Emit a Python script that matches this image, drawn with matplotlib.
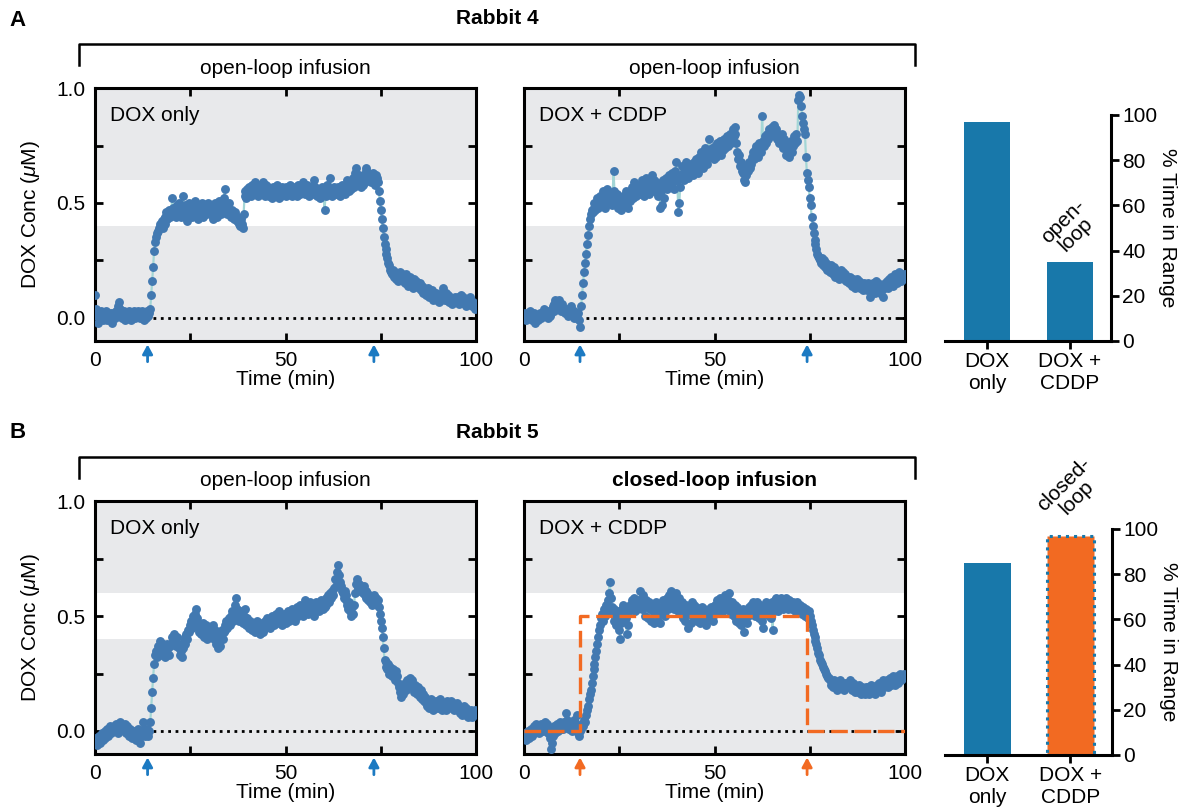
import numpy as np
import matplotlib.pyplot as plt
from matplotlib.lines import Line2D
from matplotlib.ticker import MultipleLocator, FormatStrFormatter

plt.rcParams['font.family'] = ['Liberation Sans', 'DejaVu Sans']
plt.rcParams['font.size'] = 15
plt.rcParams['mathtext.fontset'] = 'custom'
plt.rcParams['mathtext.rm'] = 'Liberation Sans'
plt.rcParams['mathtext.it'] = 'Liberation Sans:italic'

# sampling every 15 s over the 100 min run
t = np.arange(401) * 0.25

# DOX concentration, hundredths of uM
r4_dox = np.array([
    10, 4, 1, -2, 2, 0, 3, 1, -1, 2, 0, 1, 3, -1, 2, 1, 0, 2, -2, 1,
    2, 0, 3, 1, 5, 7, 4, 2, 0, 1, 3, -1, 2, 1, 0, 2, 3, 1, -1, 2,
    1, 3, 0, 2, 1, 3, 2, 0, 1, 3, 2, -1, 1, 2, 0, 3, 1, 2, 4, 10,
    16, 22, 29, 33, 35, 37, 38, 39, 41, 40, 42, 39, 43, 41, 44, 46, 43, 45, 47, 44,
    46, 52, 48, 45, 47, 44, 49, 46, 50, 47, 44, 48, 53, 46, 49, 45, 47, 42, 48, 50,
    46, 48, 44, 49, 47, 51, 45, 48, 43, 47, 49, 46, 50, 44, 48, 46, 49, 45, 47, 50,
    48, 45, 49, 47, 43, 46, 50, 48, 44, 49, 51, 47, 45, 48, 46, 52, 56, 49, 47, 45,
    48, 50, 46, 44, 47, 45, 43, 46, 44, 42, 44, 41, 40, 43, 41, 39, 45, 53, 55, 52,
    56, 54, 57, 55, 53, 58, 56, 54, 59, 57, 55, 53, 56, 58, 54, 57, 59, 55, 53, 56,
    58, 55, 57, 53, 56, 54, 52, 57, 55, 53, 56, 58, 54, 52, 55, 53, 57, 55, 54, 56,
    53, 57, 55, 54, 56, 58, 55, 53, 57, 54, 56, 55, 53, 58, 56, 54, 57, 55, 59, 56,
    54, 57, 55, 58, 56, 53, 55, 57, 54, 56, 60, 57, 55, 53, 56, 54, 52, 55, 57, 54,
    56, 47, 53, 57, 58, 54, 56, 61, 55, 53, 55, 57, 54, 56, 54, 57, 55, 53, 56, 58,
    55, 57, 54, 58, 56, 60, 57, 55, 59, 56, 58, 61, 57, 63, 65, 60, 58, 62, 59, 57,
    60, 58, 62, 59, 65, 64, 61, 63, 60, 62, 59, 61, 63, 60, 58, 62, 61, 59, 55, 51,
    47, 43, 39, 35, 32, 30, 28, 26, 24, 23, 21, 20, 19, 21, 18, 20, 17, 19, 16, 18,
    20, 17, 19, 16, 18, 15, 17, 19, 16, 14, 17, 18, 15, 16, 13, 17, 15, 16, 14, 15,
    13, 15, 12, 14, 11, 13, 12, 10, 12, 11, 13, 9, 11, 10, 12, 8, 10, 9, 11, 8,
    10, 7, 9, 8, 11, 13, 10, 8, 9, 11, 8, 10, 7, 9, 8, 6, 8, 7, 9, 8,
    7, 9, 6, 8, 10, 7, 9, 8, 6, 7, 5, 8, 6, 7, 9, 6, 5, 7, 6, 4,
    5]) / 100

r4_combo = np.array([
    1, 2, -1, 0, 2, 1, 3, 0, -1, 1, 2, 0, -2, 1, 0, -1, 1, 2, 0, 1,
    2, 4, 3, 1, 2, 0, 3, 1, 2, 4, 5, 3, 6, 8, 7, 5, 6, 8, 4, 3,
    6, 4, 3, 2, 4, 3, 1, 2, 3, 5, 2, 1, 3, 0, 2, 1, 0, 2, -1, -4,
    5, 10, 15, 20, 24, 28, 32, 36, 40, 43, 45, 47, 46, 48, 50, 47, 49, 52, 48, 50,
    53, 49, 51, 55, 50, 48, 52, 56, 53, 50, 54, 51, 49, 53, 64, 55, 52, 50, 54, 48,
    52, 50, 47, 51, 53, 49, 52, 55, 50, 48, 53, 51, 54, 57, 52, 55, 59, 56, 53, 57,
    55, 58, 54, 57, 60, 56, 53, 58, 61, 55, 57, 54, 59, 56, 62, 58, 55, 60, 57, 59,
    56, 53, 58, 48, 55, 49, 60, 52, 58, 61, 56, 59, 62, 57, 60, 63, 59, 56, 61, 64,
    68, 60, 46, 50, 57, 62, 66, 63, 60, 65, 68, 64, 61, 66, 63, 67, 65, 62, 68, 66,
    64, 69, 67, 63, 70, 66, 72, 68, 65, 71, 74, 69, 67, 73, 78, 72, 70, 74, 71, 69,
    73, 75, 70, 76, 72, 74, 77, 71, 75, 73, 78, 74, 76, 79, 75, 77, 80, 76, 78, 82,
    79, 83, 80, 76, 72, 69, 71, 66, 68, 64, 63, 60, 59, 62, 66, 64, 68, 65, 67, 70,
    72, 69, 73, 71, 75, 73, 70, 76, 74, 72, 88, 77, 75, 79, 76, 80, 78, 82, 79, 81,
    83, 80, 84, 81, 79, 82, 78, 80, 76, 79, 77, 80, 74, 78, 75, 71, 76, 73, 70, 74,
    77, 72, 75, 79, 76, 78, 80, 77, 95, 97, 96, 92, 88, 85, 82, 80, 70, 63, 60, 57,
    52, 49, 44, 40, 37, 34, 32, 30, 28, 27, 26, 25, 24, 26, 23, 25, 22, 24, 21, 23,
    22, 20, 23, 21, 19, 22, 20, 18, 21, 19, 20, 17, 19, 21, 18, 20, 17, 19, 16, 18,
    17, 15, 18, 16, 14, 17, 15, 16, 13, 15, 17, 14, 16, 13, 15, 14, 12, 15, 13, 14,
    12, 15, 13, 9, 14, 12, 15, 13, 11, 14, 16, 12, 15, 13, 11, 14, 12, 9, 13, 15,
    14, 16, 13, 17, 15, 18, 16, 14, 17, 19, 16, 18, 15, 17, 20, 18, 16, 19, 17, 18,
    19]) / 100

r5_dox = np.array([
    -5, -3, -6, -4, -2, -5, -3, -1, -4, -2, 0, -3, -1, 1, -2, 0, 2, -1, 1, 0,
    2, 0, 3, 1, -1, 2, 4, 3, 1, 2, 0, 3, 1, -1, 2, 0, -2, 1, -1, -3,
    -1, 0, -2, -4, -1, 1, -3, -5, -2, 0, 4, 1, -2, 0, -1, 1, -2, 0, 4, 10,
    17, 23, 29, 33, 35, 32, 37, 34, 39, 36, 33, 38, 35, 32, 37, 34, 38, 36, 33, 37,
    38, 41, 39, 42, 40, 37, 41, 38, 36, 33, 35, 32, 36, 39, 41, 38, 42, 40, 44, 43,
    46, 48, 45, 50, 47, 51, 53, 49, 46, 43, 45, 42, 44, 47, 41, 45, 43, 46, 40, 44,
    42, 45, 41, 43, 46, 40, 44, 38, 42, 36, 39, 37, 41, 44, 40, 43, 46, 44, 48, 45,
    47, 49, 46, 50, 52, 48, 51, 55, 58, 53, 50, 48, 52, 49, 51, 47, 50, 53, 48, 46,
    49, 47, 45, 48, 46, 44, 47, 45, 43, 46, 48, 44, 46, 42, 45, 47, 43, 46, 48, 45,
    47, 49, 46, 48, 45, 47, 50, 48, 46, 49, 51, 47, 49, 52, 48, 50, 46, 49, 51, 48,
    50, 47, 49, 52, 48, 51, 49, 53, 50, 52, 48, 51, 54, 50, 52, 55, 51, 53, 50, 54,
    57, 52, 55, 53, 51, 54, 56, 52, 55, 53, 50, 54, 56, 53, 55, 52, 54, 57, 55, 53,
    56, 54, 58, 55, 57, 59, 56, 60, 58, 61, 59, 62, 66, 63, 69, 72, 68, 65, 63, 61,
    60, 58, 61, 57, 59, 55, 53, 56, 52, 50, 54, 51, 55, 60, 64, 66, 62, 64, 61, 63,
    62, 60, 63, 59, 61, 58, 60, 57, 59, 56, 58, 55, 57, 59, 56, 58, 55, 57, 54, 51,
    48, 45, 41, 36, 31, 28, 30, 27, 29, 25, 28, 26, 24, 27, 25, 22, 26, 24, 21, 19,
    17, 15, 18, 16, 19, 21, 18, 20, 22, 19, 21, 23, 20, 22, 19, 17, 20, 18, 16, 19,
    17, 15, 18, 14, 16, 13, 15, 12, 14, 11, 13, 10, 12, 14, 11, 9, 12, 10, 13, 11,
    10, 12, 14, 11, 9, 11, 10, 12, 9, 11, 13, 10, 12, 11, 13, 10, 12, 9, 11, 10,
    12, 9, 11, 8, 10, 7, 9, 11, 8, 10, 7, 9, 6, 8, 7, 9, 6, 8, 7, 9,
    8]) / 100

r5_combo = np.array([
    -3, -1, -4, -2, 0, -3, -1, 1, -2, 0, 2, -1, 1, 3, 0, 2, -1, 1, 3, 2,
    0, 2, 4, 1, 3, -1, 1, -3, -8, -5, -2, 0, 2, -1, 1, 3, 0, 2, 4, 1,
    3, 1, 4, 2, 8, 5, 3, 1, 4, 2, 0, 3, 5, 2, 4, 1, 7, -1, -2, 0,
    1, 3, 2, 5, 4, 7, 9, 11, 14, 16, 18, 21, 24, 27, 29, 32, 35, 38, 41, 44,
    46, 49, 51, 48, 53, 50, 55, 52, 57, 60, 65, 58, 54, 51, 48, 53, 50, 46, 52, 49,
    44, 40, 47, 53, 55, 51, 54, 49, 42, 46, 52, 55, 53, 57, 54, 58, 55, 52, 56, 53,
    57, 54, 61, 56, 53, 59, 55, 50, 57, 54, 49, 56, 53, 48, 55, 52, 47, 53, 51, 56,
    52, 48, 54, 47, 53, 51, 57, 52, 50, 55, 58, 53, 59, 55, 61, 54, 57, 53, 58, 55,
    60, 56, 52, 58, 54, 51, 56, 49, 53, 48, 55, 52, 45, 51, 54, 47, 56, 52, 49, 55,
    51, 54, 48, 53, 50, 47, 52, 54, 48, 53, 50, 46, 52, 49, 53, 50, 54, 51, 48, 53,
    55, 51, 54, 57, 52, 55, 58, 53, 56, 52, 55, 59, 56, 53, 57, 60, 54, 51, 56, 53,
    50, 55, 52, 48, 54, 49, 47, 52, 46, 50, 53, 43, 48, 52, 47, 50, 54, 51, 55, 52,
    56, 53, 50, 55, 52, 56, 53, 49, 55, 52, 48, 45, 51, 54, 56, 52, 55, 50, 54, 49,
    56, 44, 52, 57, 54, 58, 55, 52, 57, 54, 58, 55, 53, 57, 54, 58, 55, 53, 57, 54,
    55, 53, 56, 54, 52, 55, 53, 56, 54, 52, 55, 53, 51, 54, 52, 50, 53, 51, 49, 52,
    50, 48, 46, 44, 42, 41, 39, 38, 36, 34, 33, 31, 30, 29, 28, 27, 26, 25, 24, 23,
    23, 22, 20, 21, 19, 22, 20, 21, 19, 18, 21, 20, 22, 19, 21, 20, 18, 21, 19, 20,
    21, 19, 22, 20, 18, 21, 19, 17, 20, 18, 19, 17, 20, 18, 16, 19, 17, 18, 16, 19,
    17, 19, 16, 18, 20, 17, 19, 18, 16, 19, 17, 20, 18, 21, 19, 17, 20, 22, 19, 21,
    20, 22, 19, 21, 23, 20, 22, 24, 21, 23, 20, 22, 24, 21, 23, 25, 22, 24, 23, 25,
    24]) / 100

# closed-loop target concentration (uM)
setpoint_t = [0, 14.7, 14.7, 74.3, 74.3, 100]
setpoint_c = [0, 0, 0.5, 0.5, 0, 0]

# infusion start / stop times (min)
pumps_left = [13.8, 73.2]
pumps_right = [14.7, 74.3]

# percent of time inside the 0.4-0.6 uM window
bar_names = ['DOX\nonly', 'DOX +\nCDDP']
pct_r4 = [97, 35]
pct_r5 = [85, 97]

GRAY = '#e8e9eb'
DOT = '#4279b1'
LINK = '#a3d6d6'
BAR_BLUE = '#1878aa'
ORANGE = '#f26a22'
ARROW_BLUE = '#1c7ac2'

W, H = 1181, 810
fig = plt.figure(figsize=(W / 100, H / 100), dpi=100)


def rect(x0, y0, x1, y1):
    return [x0 / W, 1 - y1 / H, (x1 - x0) / W, (y1 - y0) / H]


def trace_panel(box, conc, name, pumps, arrow_color, left_labels):
    ax = fig.add_axes(rect(*box))
    ax.set_facecolor(GRAY)
    ax.axhspan(0.4, 0.6, color='white', lw=0, zorder=0)
    ax.plot([pumps[0] + 1.5, 100], [0, 0], ':', color='k', lw=2, zorder=1)
    ax.plot(t, conc, '-', color=LINK, lw=1.6, zorder=2)
    ax.plot(t, conc, 'o', color=DOT, ms=6.4, mew=0, zorder=3)
    ax.set_xlim(0, 100)
    ax.set_ylim(-0.1, 1.0)
    ax.xaxis.set_major_locator(MultipleLocator(50))
    ax.xaxis.set_minor_locator(MultipleLocator(25))
    ax.yaxis.set_major_locator(MultipleLocator(0.5))
    ax.yaxis.set_minor_locator(MultipleLocator(0.25))
    ax.yaxis.set_major_formatter(FormatStrFormatter('%.1f'))
    ax.tick_params(which='both', direction='in', top=True, right=True,
                   length=6, width=2)
    ax.tick_params(which='major', pad=7)
    for s in ax.spines.values():
        s.set_linewidth(2.2)
    ax.set_xlabel('Time (min)', labelpad=0)
    if left_labels:
        ax.set_ylabel(r'DOX Conc ($\mu$M)', labelpad=10)
    else:
        ax.tick_params(labelleft=False)
    ax.text(0.04, 0.89, name, transform=ax.transAxes, va='center')
    for xa in pumps:
        ax.annotate('', xy=(xa, -0.115), xytext=(xa, -0.19),
                    arrowprops=dict(arrowstyle='-|>,head_width=0.3,head_length=0.55',
                                    color=arrow_color, lw=2, shrinkA=0, shrinkB=0,
                                    mutation_scale=10),
                    annotation_clip=False)
    return ax


def bar_panel(box, pct, colors, note, note_y):
    ax = fig.add_axes(rect(*box))
    bars = ax.bar([0, 1], pct, width=0.56, color=colors, lw=0)
    ax.set_xlim(-0.51, 1.5)
    ax.set_ylim(0, 100)
    ax.spines['left'].set_visible(False)
    ax.spines['top'].set_visible(False)
    ax.spines['bottom'].set_linewidth(2.2)
    ax.spines['right'].set_linewidth(2.2)
    ax.yaxis.tick_right()
    ax.yaxis.set_label_position('right')
    ax.yaxis.set_major_locator(MultipleLocator(20))
    ax.set_xticks([0, 1], bar_names)
    ax.tick_params(direction='out', length=6, width=2, pad=2)
    ax.set_ylabel('% Time in Range', rotation=270, labelpad=14)
    ax.text(1, note_y, note, rotation=45, ha='center', va='center',
            multialignment='center', linespacing=0.95, clip_on=False)
    return ax, bars


# Rabbit 4
trace_panel((95, 88, 476, 341), r4_dox, 'DOX only', pumps_left, ARROW_BLUE, True)
trace_panel((524, 88, 905, 341), r4_combo, 'DOX + CDDP', pumps_right, ARROW_BLUE, False)
bar_panel((945, 115, 1111, 341), pct_r4, [BAR_BLUE, BAR_BLUE], 'open-\nloop', 50)

# Rabbit 5
trace_panel((95, 501, 476, 754), r5_dox, 'DOX only', pumps_left, ARROW_BLUE, True)
ax = trace_panel((524, 501, 905, 754), r5_combo, 'DOX + CDDP', pumps_right, ORANGE, False)
ax.plot(setpoint_t, setpoint_c, color=ORANGE, lw=2.4, ls=(0, (5, 2)), zorder=4)
ax, bars = bar_panel((945, 529, 1112, 755), pct_r5, [BAR_BLUE, ORANGE], 'closed-\nloop', 117)
bars[1].set_edgecolor(BAR_BLUE)
bars[1].set_linestyle(':')
bars[1].set_linewidth(2.2)

# row headings and brackets
for y0, letter, rabbit, subs in [(0, 'A', 'Rabbit 4', ('open-loop infusion', 'open-loop infusion')),
                                 (413, 'B', 'Rabbit 5', ('open-loop infusion', 'closed-loop infusion'))]:
    fig.text(18 / W, 1 - (20 + y0) / H, letter, fontsize=16, fontweight='bold',
             ha='center', va='center')
    fig.text(497 / W, 1 - (19 + y0) / H, rabbit, fontweight='bold', ha='center', va='center')
    bx = np.array([79, 79, 915, 915]) / W
    by = 1 - (np.array([65, 44, 44, 65]) + y0) / H
    fig.add_artist(Line2D(bx, by, color='k', lw=1.8, transform=fig.transFigure))
    fig.text(285 / W, 1 - (68 + y0) / H, subs[0], ha='center', va='center')
    fig.text(714 / W, 1 - (68 + y0) / H, subs[1], ha='center', va='center',
             fontweight='bold' if subs[1].startswith('closed') else 'normal')

fig.savefig('out.png', dpi=100)
